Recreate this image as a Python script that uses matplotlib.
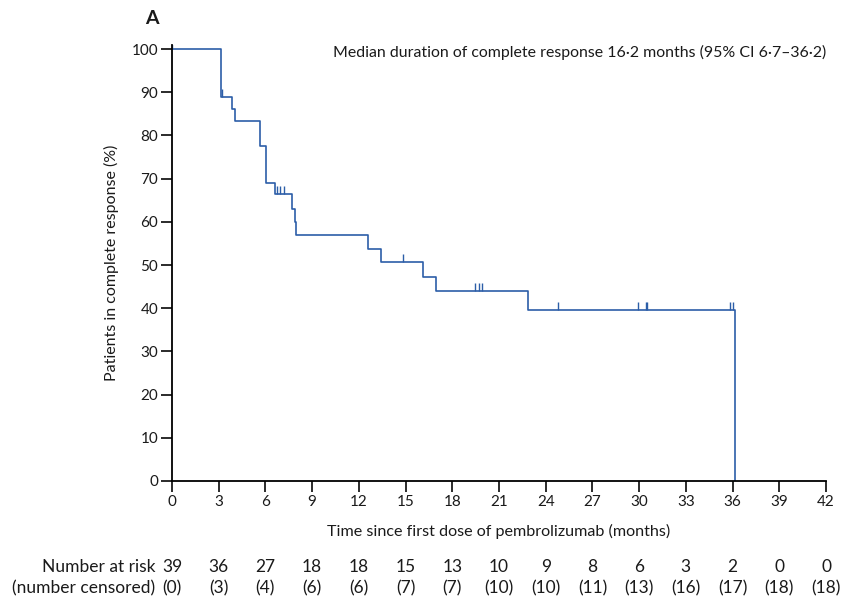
import numpy as np
import matplotlib
matplotlib.use("Agg")
import matplotlib.pyplot as plt

plt.rcParams['font.family'] = ['Lato', 'DejaVu Sans']

# Kaplan-Meier step data
event_times = [0, 3.15, 3.88, 4.02, 5.65, 6.06, 6.64, 7.73, 7.88, 7.99,
               12.59, 13.42, 16.1, 16.93, 22.84, 36.13]
survival = [100, 88.8, 86.1, 83.4, 77.6, 69.0, 66.4, 62.9, 60.0, 57.0,
            53.7, 50.6, 47.2, 43.9, 39.6, 0]
censor_times = [0, 3.2, 6.72, 6.94, 7.19, 14.84, 19.49, 19.73, 19.88, 24.81,
                29.9, 30.45, 30.52, 35.84, 36.05]

xticks = list(range(0, 43, 3))
at_risk = [39, 36, 27, 18, 18, 15, 13, 10, 9, 8, 6, 3, 2, 0, 0]
censored = [0, 3, 4, 6, 6, 7, 7, 10, 10, 11, 13, 16, 17, 18, 18]

line_color = '#2c5ea8'
text_color = '#1a1a1a'

fig = plt.figure(figsize=(8.44, 6.04), dpi=100)
ax = fig.add_axes([172 / 844, 123 / 604, 654 / 844, 436.3 / 604])

ax.step(event_times, survival, where='post', color=line_color, lw=1.2)

# censor marks: short ticks rising from the curve
idx = np.searchsorted(event_times, censor_times, side='right') - 1
levels = np.array(survival)[idx]
ax.vlines(censor_times, levels, levels + 1.9, color=line_color, lw=1.0)

ax.set_xlim(0, 42)
ax.set_ylim(0, 101)
ax.set_xticks(xticks)
ax.set_yticks(range(0, 101, 10))
ax.spines['top'].set_visible(False)
ax.spines['right'].set_visible(False)
for s in ['left', 'bottom']:
    ax.spines[s].set_linewidth(1.3)
ax.tick_params(axis='both', direction='out', length=8, width=1.3,
               labelsize=11, colors=text_color, pad=2)

ax.set_xlabel('Time since first dose of pembrolizumab (months)', fontsize=11.6,
              color=text_color, labelpad=11)
ax.set_ylabel('Patients in complete response (%)', fontsize=11.5,
              color=text_color, labelpad=9)

ax.text(42, 99.3, 'Median duration of complete response 16·2 months (95% CI 6·7–36·2)',
        ha='right', va='center', fontsize=11.45, color=text_color)

fig.text(152 / 844, 1 - 18 / 604, 'A', ha='center', va='center',
         fontsize=14, fontweight='bold', color=text_color)

# number at risk table
row1_y = 1 - 567 / 604
row2_y = 1 - 588 / 604
for t, n, c in zip(xticks, at_risk, censored):
    xf = ax.transData.transform((t, 0))[0] / fig.bbox.width
    fig.text(xf, row1_y, str(n), ha='center', va='center', fontsize=12.5, color=text_color)
    fig.text(xf, row2_y, f'({c})', ha='center', va='center', fontsize=12.5, color=text_color)
fig.text(155 / 844, row1_y, 'Number at risk', ha='right', va='center',
         fontsize=12.5, color=text_color)
fig.text(155 / 844, row2_y, '(number censored)', ha='right', va='center',
         fontsize=12.5, color=text_color)

fig.savefig('out.png', dpi=100)
